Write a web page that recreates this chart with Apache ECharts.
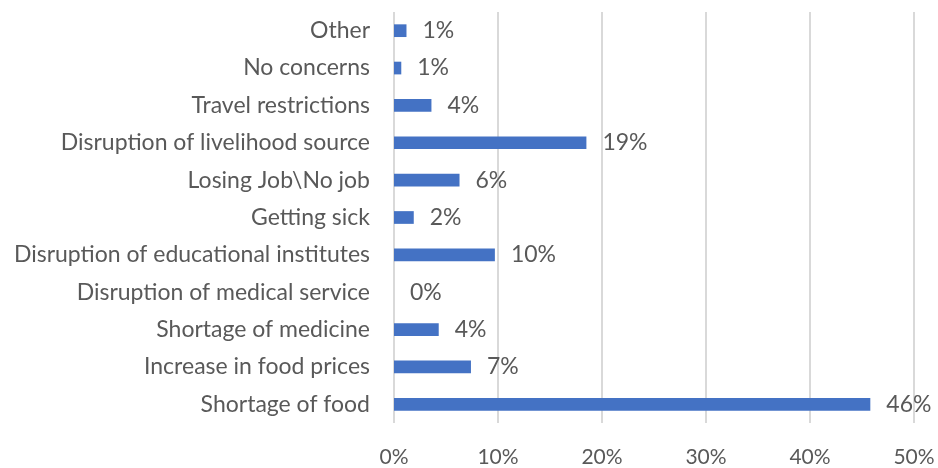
<!DOCTYPE html>
<html>
<head>
<meta charset="utf-8">
<script src="https://cdn.jsdelivr.net/npm/echarts@6/dist/echarts.min.js"></script>
<style>
html,body{margin:0;padding:0;background:#fff;}
#c{width:938px;height:468px;}
</style>
</head>
<body>
<div id="c"></div>
<script>
const categories = [
  "Shortage of food",
  "Increase in food prices",
  "Shortage of medicine",
  "Disruption of medical service",
  "Disruption of educational institutes",
  "Getting sick",
  "Losing Job\\No job",
  "Disruption of livelihood source",
  "Travel restrictions",
  "No concerns",
  "Other"
];
const values = [45.8, 7.4, 4.3, 0, 9.7, 1.9, 6.3, 18.5, 3.6, 0.7, 1.2];
const xTicks = [0, 10, 20, 30, 40, 50];

const FONT = "Lato";
const TXT = "#595959";
const chart = echarts.init(document.getElementById('c'), null, {renderer: 'canvas'});
chart.setOption({
  animation: false,
  grid: {left: 394, right: 24, top: 12, bottom: 41, containLabel: false},
  xAxis: {
    type: 'value',
    min: xTicks[0],
    max: xTicks[xTicks.length - 1],
    interval: 10,
    axisLine: {show: false},
    axisTick: {show: false},
    splitLine: {show: true, lineStyle: {color: '#D9D9D9', width: 2}},
    axisLabel: {
      color: TXT, fontFamily: FONT, fontSize: 21, margin: 24,
      formatter: v => v + '%'
    }
  },
  yAxis: {
    type: 'category',
    data: categories,
    axisLine: {show: false},
    axisTick: {show: false},
    axisLabel: {color: TXT, fontFamily: FONT, fontSize: 23, margin: 24}
  },
  series: [{
    type: 'bar',
    data: values,
    barWidth: '34%',
    itemStyle: {color: '#4472C4'},
    label: {
      show: true,
      position: 'right',
      distance: 16,
      color: TXT,
      fontFamily: FONT,
      fontSize: 23,
      formatter: p => Math.round(p.value) + '%'
    }
  }]
});
</script>
</body>
</html>
